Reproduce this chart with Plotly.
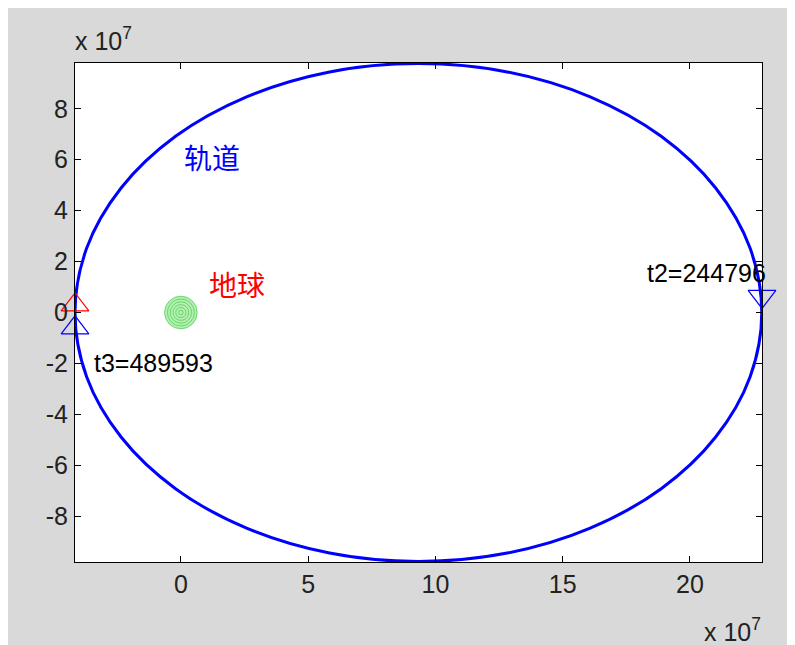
import plotly.graph_objects as go

# ---- data (units of 1e7 m) ----
orbit_x = [22.82, 22.36, 21.01, 18.87, 16.08, 12.82, 9.33, 5.84, 2.58, -0.21, -2.35, -3.70,
           -4.16, -3.70, -2.35, -0.21, 2.58, 5.84, 9.33, 12.82, 16.08, 18.87, 21.01, 22.36, 22.82]
orbit_y = [0.0, 2.53, 4.89, 6.92, 8.47, 9.45, 9.78, 9.45, 8.47, 6.92, 4.89, 2.53,
           0.0, -2.53, -4.89, -6.92, -8.47, -9.45, -9.78, -9.45, -8.47, -6.92, -4.89, -2.53, 0.0]

earth_center = (0.0, 0.0)
earth_rings = [0.64, 0.53, 0.42, 0.31, 0.20, 0.09]

start_pt = (-4.16, 0.30)     # red marker
half_pt = (22.83, 0.63)      # blue down marker (t2)
end_pt = (-4.16, -0.60)      # blue up marker (t3)

label_t2 = "t2=244796"
label_t3 = "t3=489593"
label_orbit = "轨道"
label_earth = "地球"

x_ticks = [0, 5, 10, 15, 20]
y_ticks = [-8, -6, -4, -2, 0, 2, 4, 6, 8]
x_range = [-4.16, 22.83]
y_range = [-9.8, 9.8]

LAT = "Liberation Sans, Arial, sans-serif"
CJK = "Noto Sans CJK SC, sans-serif"

fig = go.Figure()

fig.add_trace(go.Scatter(x=orbit_x, y=orbit_y, mode="lines",
                         line=dict(color="#0000ff", width=3, shape="spline"),
                         hoverinfo="skip", showlegend=False))

fig.add_trace(go.Scatter(x=[start_pt[0]], y=[start_pt[1]], mode="markers", cliponaxis=False,
                         marker=dict(symbol="triangle-up-open", size=24,
                                     line=dict(color="#ff0000", width=1.2), color="#ff0000"),
                         showlegend=False))
fig.add_trace(go.Scatter(x=[end_pt[0]], y=[end_pt[1]], mode="markers", cliponaxis=False,
                         marker=dict(symbol="triangle-up-open", size=24,
                                     line=dict(color="#0000ff", width=1.2), color="#0000ff"),
                         showlegend=False))
fig.add_trace(go.Scatter(x=[half_pt[0]], y=[half_pt[1]], mode="markers", cliponaxis=False,
                         marker=dict(symbol="triangle-down-open", size=24,
                                     line=dict(color="#0000ff", width=1.2), color="#0000ff"),
                         showlegend=False))

shapes = []
# Earth drawn as concentric rings
for i, r in enumerate(earth_rings):
    shapes.append(dict(type="circle", xref="x", yref="y",
                       x0=earth_center[0] - r, x1=earth_center[0] + r,
                       y0=earth_center[1] - r, y1=earth_center[1] + r,
                       line=dict(color="#66d966", width=1),
                       fillcolor="#b4f0b4" if i == 0 else "rgba(0,0,0,0)",
                       layer="below"))

annotations = [
    dict(x=0.04, y=6.11, xref="x", yref="y", text=label_orbit, showarrow=False,
         xanchor="left", yanchor="middle", font=dict(family=CJK, size=28, color="#0000ff")),
    dict(x=1.02, y=1.12, xref="x", yref="y", text=label_earth, showarrow=False,
         xanchor="left", yanchor="middle", font=dict(family=CJK, size=28, color="#ff0000")),
    dict(x=-3.50, y=-1.98, xref="x", yref="y", text=label_t3, showarrow=False,
         xanchor="left", yanchor="middle", font=dict(family=LAT, size=25, color="black")),
    dict(x=18.23, y=1.55, xref="x", yref="y", text=label_t2, showarrow=False,
         xanchor="left", yanchor="middle", font=dict(family=LAT, size=25, color="black")),
    dict(x=-0.003, y=1.012, xref="paper", yref="paper", text="x 10<sup>7</sup>", showarrow=False,
         xanchor="left", yanchor="bottom", font=dict(family=LAT, size=25, color="#222222")),
    dict(x=0.913, y=-0.173, xref="paper", yref="paper", text="x 10<sup>7</sup>", showarrow=False,
         xanchor="left", yanchor="bottom", font=dict(family=LAT, size=25, color="#222222")),
]

axis_common = dict(showgrid=False, zeroline=False, showline=True, linecolor="black", linewidth=1,
                   mirror="ticks", ticks="inside", ticklen=6, tickcolor="black", tickwidth=1,
                   tickfont=dict(family=LAT, size=25, color="#222222"))

fig.update_layout(
    width=795, height=645,
    margin=dict(l=67, r=41, t=55, b=91),
    paper_bgcolor="#d9d9d9", plot_bgcolor="white",
    shapes=shapes, annotations=annotations, showlegend=False,
    xaxis=dict(range=x_range, tickvals=x_ticks, ticktext=[str(v) for v in x_ticks],
               ticklabelstandoff=0, **axis_common),
    yaxis=dict(range=y_range, tickvals=y_ticks, ticktext=[str(v) for v in y_ticks],
               ticklabelstandoff=1, **axis_common),
)

fig.write_html("out.html")
